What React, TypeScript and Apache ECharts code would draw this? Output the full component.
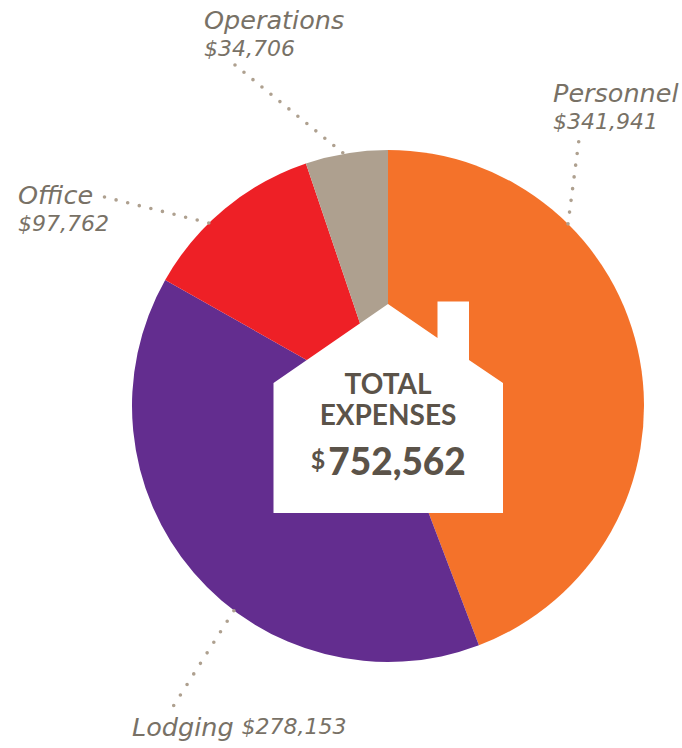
import React, { useEffect, useRef } from "react";
import * as echarts from "echarts";

const categories = ["Personnel", "Lodging", "Office", "Operations"];
// Printed dollar amounts, as they appear in the labels.
const amounts = ["$341,941", "$278,153", "$97,762", "$34,706"];
// Slice sweeps in degrees, as drawn in the picture (they differ slightly from the printed shares).
const sliceSweeps = [159.2, 140.3, 41.8, 18.7];
const colors = ["#f4722a", "#632d8f", "#ee2026", "#aea08f"];
const labelAnchors = [
  { x: 553, y: 78 },
  { x: 132, y: 712 },
  { x: 18, y: 180 },
  { x: 204, y: 5 },
];
const leaders = [
  [578.7, 141.7, 568, 224, 7],
  [173.7, 705.5, 234, 610.5, 9],
  [104.5, 197, 209, 223, 9],
  [235, 65, 343, 153, 12],
];
const housePoints = [
  [388, 304], [437.5, 338], [437.5, 301.5], [469, 301.5], [469, 360],
  [503, 383], [503, 513], [273.5, 513], [273.5, 383],
];

const FONT = "Lato, 'Open Sans', sans-serif";
const LABEL_FONT = "'DejaVu Sans', sans-serif";
const LABEL_COLOR = "#787166";
const BOLD = "#5b5349";

export default function App() {
  const ref = useRef<HTMLDivElement>(null);
  useEffect(() => {
    const chart = echarts.init(ref.current!, null, { renderer: "svg" });
    chart.setOption({
      animation: false,
      backgroundColor: "#fff",
      series: [
        {
          type: "pie",
          center: [388, 406],
          radius: [0, 256],
          startAngle: 90,
          clockwise: true,
          avoidLabelOverlap: false,
          silent: true,
          data: categories.map((name, i) => ({
            name,
            value: sliceSweeps[i],
            itemStyle: { color: colors[i] },
          })),
          label: {
            show: true,
            position: "outside",
            fontFamily: LABEL_FONT,
            fontStyle: "italic",
            fontWeight: 200,
            fontSize: 25,
            lineHeight: 29,
            color: LABEL_COLOR,
            formatter: (p: any) =>
              p.name === "Lodging"
                ? `{n|${p.name}} {v|${amounts[p.dataIndex]}}`
                : `{n|${p.name}}\n{v|${amounts[p.dataIndex]}}`,
            rich: {
              n: { fontFamily: LABEL_FONT, fontStyle: "italic", fontWeight: 200, fontSize: 25.5, lineHeight: 29, color: LABEL_COLOR },
              v: { fontFamily: LABEL_FONT, fontStyle: "italic", fontWeight: 200, fontSize: 22, lineHeight: 29, color: LABEL_COLOR },
            },
          },
          labelLine: { show: false },
          labelLayout: (p: any) => ({
            x: labelAnchors[p.dataIndex].x,
            y: labelAnchors[p.dataIndex].y,
            align: "left",
            verticalAlign: "top",
          }),
        },
      ],
      graphic: [
        ...leaders.map(([x1, y1, x2, y2, gaps]) => ({
          type: "line",
          z: 10,
          shape: { x1, y1, x2, y2 },
          style: {
            stroke: "#aea08f",
            lineWidth: 3.6,
            lineCap: "round",
            lineDash: [0, (Math.hypot(x2 - x1, y2 - y1) / gaps) * 0.998],
          },
        })),
        {
          type: "polygon",
          z: 11,
          shape: { points: housePoints },
          style: { fill: "#fff" },
        },
        {
          type: "text", z: 12, x: 388, y: 383,
          style: { text: "TOTAL", fill: BOLD, font: `bold 28px ${FONT}`, textAlign: "center", textVerticalAlign: "middle" },
        },
        {
          type: "text", z: 12, x: 388, y: 414,
          style: { text: "EXPENSES", fill: BOLD, font: `bold 28px ${FONT}`, textAlign: "center", textVerticalAlign: "middle" },
        },
        {
          type: "text", z: 12, x: 318, y: 459,
          style: { text: "$", fill: BOLD, font: `bold 25px ${FONT}`, textAlign: "center", textVerticalAlign: "middle" },
        },
        {
          type: "text", z: 12, x: 397, y: 460,
          style: { text: "752,562", fill: BOLD, font: `900 37px ${FONT}`, textAlign: "center", textVerticalAlign: "middle" },
        },
      ],
    });
    return () => chart.dispose();
  }, []);
  return (
    <div
      ref={ref}
      style={{ position: "fixed", left: 0, top: 0, width: 682, height: 748 }}
    />
  );
}
